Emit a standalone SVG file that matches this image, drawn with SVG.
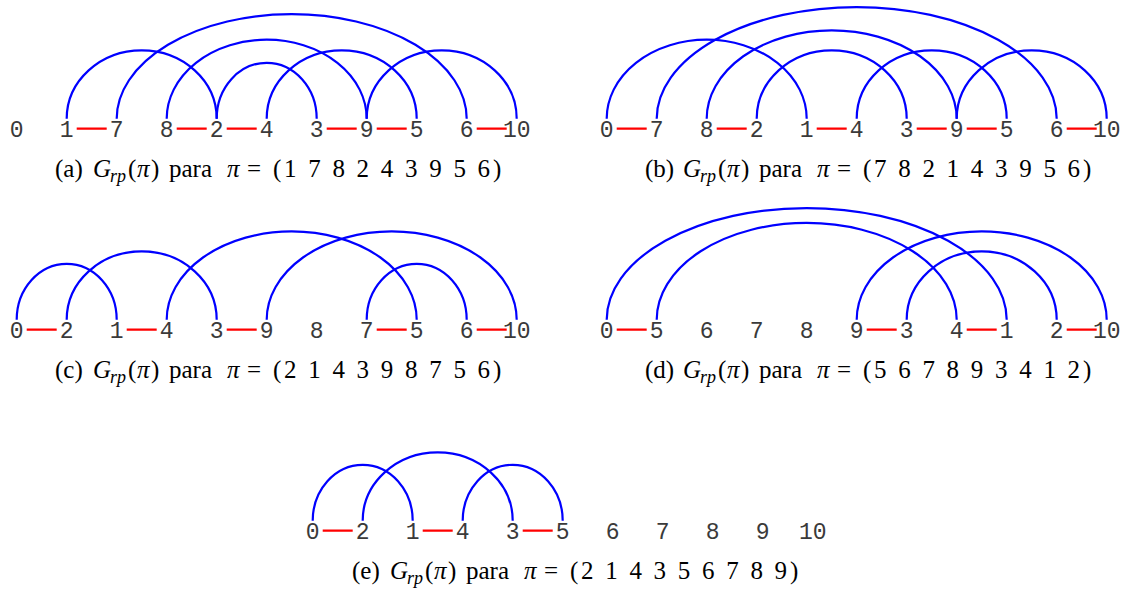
<svg xmlns="http://www.w3.org/2000/svg" width="1125" height="592" viewBox="0 0 1125 592">
<style>
.bg{fill:#fff}
.arc{fill:none;stroke:#0000ff;stroke-width:2.2}
.red{stroke:#ff0000;stroke-width:2.2}
.lbl{font-family:"Liberation Mono",monospace;font-size:23px;fill:#3a3a3a;text-anchor:middle}
.cap{font-family:"Liberation Serif",serif;font-size:25px;fill:#000}
.it{font-style:italic}
.sub{font-style:italic;font-size:18px}
</style>
<rect class="bg" x="0" y="0" width="1125" height="592"/>
<g id="connectors">
<path class="arc" d="M66.7 118.7 A75 68.4 0 0 1 216.7 118.7"/>
<path class="arc" d="M116.7 118.7 A175 104.5 0 0 1 466.7 118.7"/>
<path class="arc" d="M166.7 118.7 A100 79 0 0 1 366.7 118.7"/>
<path class="arc" d="M216.7 118.7 A50 55.9 0 0 1 316.7 118.7"/>
<path class="arc" d="M266.7 118.7 A75 68.4 0 0 1 416.7 118.7"/>
<path class="arc" d="M366.7 118.7 A75 68.4 0 0 1 516.7 118.7"/>
<path class="red" d="M76.7 128.7H106.7M176.7 128.7H206.7M226.7 128.7H256.7M326.7 128.7H356.7M376.7 128.7H406.7M476.7 128.7H506.7"/>
<path class="arc" d="M606.7 118.7 A100 79 0 0 1 806.7 118.7"/>
<path class="arc" d="M656.7 118.7 A200 111.7 0 0 1 1056.7 118.7"/>
<path class="arc" d="M706.7 118.7 A125 88.3 0 0 1 956.7 118.7"/>
<path class="arc" d="M756.7 118.7 A75 68.4 0 0 1 906.7 118.7"/>
<path class="arc" d="M856.7 118.7 A75 68.4 0 0 1 1006.7 118.7"/>
<path class="arc" d="M956.7 118.7 A75 68.4 0 0 1 1106.7 118.7"/>
<path class="red" d="M616.7 128.7H646.7M716.7 128.7H746.7M816.7 128.7H846.7M916.7 128.7H946.7M966.7 128.7H996.7M1066.7 128.7H1096.7"/>
<path class="arc" d="M16.7 319.7 A50 55.9 0 0 1 116.7 319.7"/>
<path class="arc" d="M66.7 319.7 A75 68.4 0 0 1 216.7 319.7"/>
<path class="arc" d="M166.7 319.7 A125 88.3 0 0 1 416.7 319.7"/>
<path class="arc" d="M266.7 319.7 A125 88.3 0 0 1 516.7 319.7"/>
<path class="arc" d="M366.7 319.7 A50 55.9 0 0 1 466.7 319.7"/>
<path class="red" d="M26.7 329.7H56.7M126.7 329.7H156.7M226.7 329.7H256.7M376.7 329.7H406.7M476.7 329.7H506.7"/>
<path class="arc" d="M606.7 319.7 A200 111.7 0 0 1 1006.7 319.7"/>
<path class="arc" d="M656.7 319.7 A150 96.8 0 0 1 956.7 319.7"/>
<path class="arc" d="M856.7 319.7 A125 88.3 0 0 1 1106.7 319.7"/>
<path class="arc" d="M906.7 319.7 A75 68.4 0 0 1 1056.7 319.7"/>
<path class="red" d="M616.7 329.7H646.7M866.7 329.7H896.7M966.7 329.7H996.7M1066.7 329.7H1096.7"/>
<path class="arc" d="M312.7 520.7 A50 55.9 0 0 1 412.7 520.7"/>
<path class="arc" d="M362.7 520.7 A75 68.4 0 0 1 512.7 520.7"/>
<path class="arc" d="M462.7 520.7 A50 55.9 0 0 1 562.7 520.7"/>
<path class="red" d="M322.7 530.7H352.7M422.7 530.7H452.7M522.7 530.7H552.7"/>
</g>
<g id="panel-a">
<g id="a-0"><text class="lbl" x="16.7" y="137.3">0</text></g>
<g id="a-1"><text class="lbl" x="66.7" y="137.3">1</text></g>
<g id="a-7"><text class="lbl" x="116.7" y="137.3">7</text></g>
<g id="a-8"><text class="lbl" x="166.7" y="137.3">8</text></g>
<g id="a-2"><text class="lbl" x="216.7" y="137.3">2</text></g>
<g id="a-4"><text class="lbl" x="266.7" y="137.3">4</text></g>
<g id="a-3"><text class="lbl" x="316.7" y="137.3">3</text></g>
<g id="a-9"><text class="lbl" x="366.7" y="137.3">9</text></g>
<g id="a-5"><text class="lbl" x="416.7" y="137.3">5</text></g>
<g id="a-6"><text class="lbl" x="466.7" y="137.3">6</text></g>
<g id="a-10"><text class="lbl" x="516.7" y="137.3">10</text></g>
</g>
<g id="panel-b">
<g id="b-0"><text class="lbl" x="606.7" y="137.3">0</text></g>
<g id="b-7"><text class="lbl" x="656.7" y="137.3">7</text></g>
<g id="b-8"><text class="lbl" x="706.7" y="137.3">8</text></g>
<g id="b-2"><text class="lbl" x="756.7" y="137.3">2</text></g>
<g id="b-1"><text class="lbl" x="806.7" y="137.3">1</text></g>
<g id="b-4"><text class="lbl" x="856.7" y="137.3">4</text></g>
<g id="b-3"><text class="lbl" x="906.7" y="137.3">3</text></g>
<g id="b-9"><text class="lbl" x="956.7" y="137.3">9</text></g>
<g id="b-5"><text class="lbl" x="1006.7" y="137.3">5</text></g>
<g id="b-6"><text class="lbl" x="1056.7" y="137.3">6</text></g>
<g id="b-10"><text class="lbl" x="1106.7" y="137.3">10</text></g>
</g>
<g id="panel-c">
<g id="c-0"><text class="lbl" x="16.7" y="338.3">0</text></g>
<g id="c-2"><text class="lbl" x="66.7" y="338.3">2</text></g>
<g id="c-1"><text class="lbl" x="116.7" y="338.3">1</text></g>
<g id="c-4"><text class="lbl" x="166.7" y="338.3">4</text></g>
<g id="c-3"><text class="lbl" x="216.7" y="338.3">3</text></g>
<g id="c-9"><text class="lbl" x="266.7" y="338.3">9</text></g>
<g id="c-8"><text class="lbl" x="316.7" y="338.3">8</text></g>
<g id="c-7"><text class="lbl" x="366.7" y="338.3">7</text></g>
<g id="c-5"><text class="lbl" x="416.7" y="338.3">5</text></g>
<g id="c-6"><text class="lbl" x="466.7" y="338.3">6</text></g>
<g id="c-10"><text class="lbl" x="516.7" y="338.3">10</text></g>
</g>
<g id="panel-d">
<g id="d-0"><text class="lbl" x="606.7" y="338.3">0</text></g>
<g id="d-5"><text class="lbl" x="656.7" y="338.3">5</text></g>
<g id="d-6"><text class="lbl" x="706.7" y="338.3">6</text></g>
<g id="d-7"><text class="lbl" x="756.7" y="338.3">7</text></g>
<g id="d-8"><text class="lbl" x="806.7" y="338.3">8</text></g>
<g id="d-9"><text class="lbl" x="856.7" y="338.3">9</text></g>
<g id="d-3"><text class="lbl" x="906.7" y="338.3">3</text></g>
<g id="d-4"><text class="lbl" x="956.7" y="338.3">4</text></g>
<g id="d-1"><text class="lbl" x="1006.7" y="338.3">1</text></g>
<g id="d-2"><text class="lbl" x="1056.7" y="338.3">2</text></g>
<g id="d-10"><text class="lbl" x="1106.7" y="338.3">10</text></g>
</g>
<g id="panel-e">
<g id="e-0"><text class="lbl" x="312.7" y="539.3">0</text></g>
<g id="e-2"><text class="lbl" x="362.7" y="539.3">2</text></g>
<g id="e-1"><text class="lbl" x="412.7" y="539.3">1</text></g>
<g id="e-4"><text class="lbl" x="462.7" y="539.3">4</text></g>
<g id="e-3"><text class="lbl" x="512.7" y="539.3">3</text></g>
<g id="e-5"><text class="lbl" x="562.7" y="539.3">5</text></g>
<g id="e-6"><text class="lbl" x="612.7" y="539.3">6</text></g>
<g id="e-7"><text class="lbl" x="662.7" y="539.3">7</text></g>
<g id="e-8"><text class="lbl" x="712.7" y="539.3">8</text></g>
<g id="e-9"><text class="lbl" x="762.7" y="539.3">9</text></g>
<g id="e-10"><text class="lbl" x="812.7" y="539.3">10</text></g>
</g>
<g id="captions">
<text class="cap" transform="translate(55,177)"><tspan x="0" y="0">(a)</tspan><tspan class="it" x="38" y="0">G</tspan><tspan class="sub" x="55" y="5">rp</tspan><tspan x="73" y="0">(</tspan><tspan class="it" x="82" y="0">π</tspan><tspan x="96" y="0">)</tspan><tspan x="114" y="0">para</tspan><tspan class="it" x="172" y="0">π</tspan><tspan x="192" y="0">=</tspan><tspan x="218" y="0">(</tspan><tspan x="229 253.2 277.4 301.6 325.8 350 374.2 398.4 422.6" y="0">178243956</tspan><tspan x="438" y="0">)</tspan></text>
<text class="cap" transform="translate(645,177)"><tspan x="0" y="0">(b)</tspan><tspan class="it" x="38" y="0">G</tspan><tspan class="sub" x="55" y="5">rp</tspan><tspan x="73" y="0">(</tspan><tspan class="it" x="82" y="0">π</tspan><tspan x="96" y="0">)</tspan><tspan x="114" y="0">para</tspan><tspan class="it" x="172" y="0">π</tspan><tspan x="192" y="0">=</tspan><tspan x="218" y="0">(</tspan><tspan x="229 253.2 277.4 301.6 325.8 350 374.2 398.4 422.6" y="0">782143956</tspan><tspan x="438" y="0">)</tspan></text>
<text class="cap" transform="translate(55,378)"><tspan x="0" y="0">(c)</tspan><tspan class="it" x="38" y="0">G</tspan><tspan class="sub" x="55" y="5">rp</tspan><tspan x="73" y="0">(</tspan><tspan class="it" x="82" y="0">π</tspan><tspan x="96" y="0">)</tspan><tspan x="114" y="0">para</tspan><tspan class="it" x="172" y="0">π</tspan><tspan x="192" y="0">=</tspan><tspan x="218" y="0">(</tspan><tspan x="229 253.2 277.4 301.6 325.8 350 374.2 398.4 422.6" y="0">214398756</tspan><tspan x="438" y="0">)</tspan></text>
<text class="cap" transform="translate(645,378)"><tspan x="0" y="0">(d)</tspan><tspan class="it" x="38" y="0">G</tspan><tspan class="sub" x="55" y="5">rp</tspan><tspan x="73" y="0">(</tspan><tspan class="it" x="82" y="0">π</tspan><tspan x="96" y="0">)</tspan><tspan x="114" y="0">para</tspan><tspan class="it" x="172" y="0">π</tspan><tspan x="192" y="0">=</tspan><tspan x="218" y="0">(</tspan><tspan x="229 253.2 277.4 301.6 325.8 350 374.2 398.4 422.6" y="0">567893412</tspan><tspan x="438" y="0">)</tspan></text>
<text class="cap" transform="translate(352,579)"><tspan x="0" y="0">(e)</tspan><tspan class="it" x="38" y="0">G</tspan><tspan class="sub" x="55" y="5">rp</tspan><tspan x="73" y="0">(</tspan><tspan class="it" x="82" y="0">π</tspan><tspan x="96" y="0">)</tspan><tspan x="114" y="0">para</tspan><tspan class="it" x="172" y="0">π</tspan><tspan x="192" y="0">=</tspan><tspan x="218" y="0">(</tspan><tspan x="229 253.2 277.4 301.6 325.8 350 374.2 398.4 422.6" y="0">214356789</tspan><tspan x="438" y="0">)</tspan></text>
</g>
</svg>
